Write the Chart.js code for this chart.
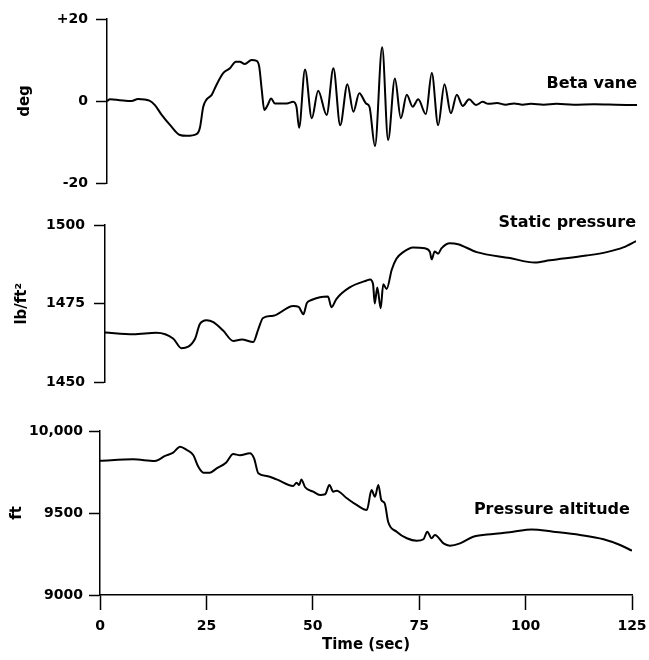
<!DOCTYPE html>
<html><head><meta charset="utf-8">
<script src="https://cdn.jsdelivr.net/npm/chart.js@4.4.1/dist/chart.umd.min.js"></script>
<style>
html,body{margin:0;padding:0;background:#fff;}
#wrap{position:relative;width:649px;height:660px;overflow:hidden;}
canvas{position:absolute;left:0;}
</style></head><body>
<div id="wrap">
<canvas id="c1" width="649" height="200" style="top:0px"></canvas>
<canvas id="c2" width="649" height="200" style="top:200px"></canvas>
<canvas id="c3" width="649" height="260" style="top:400px"></canvas>
</div>
<script>
// ---- Data ----
const betaTime = [0,0.7,3,5.8,7.3,10,11.3,12.9,14.9,17.2,18.8,21.1,21.9,22.7,23.5,24.7,25.8,27.4,29,30.4,31.3,32.5,34.1,35.3,35.9,36.5,37.1,37.9,38.7,39.6,42.4,43.9,44.7,45.3,46.7,48.3,49.8,51.8,53.4,55.0,56.7,58.1,59.5,61.1,61.9,63.2,64.9,66.3,67.9,69.3,70.7,72.1,73.4,75.2,76.6,78.1,79.6,81.1,82.5,83.9,85.4,87.0,88.6,89.9,92,94,96,98,100,103,106,110,115,120,125];
const betaDeg  = [0,0.4,0.2,0,0.5,0.1,-1,-3.4,-5.9,-8.3,-8.5,-8.1,-6.6,-1.4,0.4,1.5,3.9,6.8,8,9.6,9.6,9.0,10.0,9.8,8.4,2.7,-2.2,-1.0,0.6,-0.6,-0.6,-0.2,-1.5,-6.5,7.7,-4.2,2.5,-3.4,8.0,-5.9,4.1,-2.6,1.9,-0.6,-1.4,-11.0,13.1,-9.5,5.5,-4.2,1.5,-1.4,0.4,-3.2,6.8,-5.9,4.1,-3.0,1.5,-1.2,0.4,-1.0,-0.2,-0.7,-0.5,-0.9,-0.6,-0.9,-0.7,-0.9,-0.7,-0.9,-0.8,-0.9,-1.0];

const pressTime = [0,6.7,12.1,16.1,18,21.2,22.3,23.9,25.5,27.8,30.2,32.2,34.9,36.1,37.2,39.6,44.3,45.6,46.7,47.5,48.6,50.6,52.5,53.3,54.5,57.6,61.6,62.4,63.1,63.5,64.1,64.9,65.5,66.3,67.5,68.6,70.2,72.5,75.3,76.5,76.9,77.6,78.4,79.2,81.2,83.1,87.5,95.3,101.2,104.7,113.3,118.1,122,125];
const pressVal  = [1465.9,1465.3,1465.8,1463.9,1460.9,1463.9,1468.5,1469.8,1469.2,1466.5,1463.2,1463.7,1462.9,1467.0,1470.5,1471.2,1474.3,1474.0,1471.7,1475.2,1476.2,1477.1,1477.3,1473.9,1476.6,1480.2,1482.4,1482.7,1481.2,1475.1,1480.2,1473.6,1481.2,1479.7,1485.8,1489.3,1491.4,1492.9,1492.6,1491.4,1489.1,1491.6,1490.9,1492.6,1494.2,1493.9,1491.4,1489.5,1488.1,1488.8,1490.3,1491.4,1492.9,1494.9];

const altTime = [0,7.8,12.9,15.3,17.2,18.8,20.4,21.9,23.1,24.3,25.8,27.4,29.6,31.3,32.9,35.2,36.2,37.2,39.2,41.5,45.4,46.2,46.8,47.3,48.2,50.1,51.7,52.9,53.9,54.8,55.6,58.0,60.3,62.7,63.8,64.6,65.4,66.1,66.9,67.7,69.7,72.1,74.4,76,76.9,77.9,78.7,80.7,82.2,84.6,87.7,92.4,97.1,101.4,106.5,112.8,118.3,122.2,125];
const altVal  = [9819,9827,9817,9848,9868,9904,9884,9854,9782,9746,9746,9772,9807,9860,9852,9864,9833,9742,9726,9705,9665,9685,9671,9705,9657,9630,9610,9614,9671,9630,9636,9590,9549,9518,9640,9599,9671,9579,9559,9447,9386,9346,9331,9340,9386,9346,9366,9315,9301,9315,9355,9372,9386,9400,9386,9366,9340,9305,9270];

const betaTicks = [-20,0,20];
const betaTickLabels = ['-20','0','+20'];
const pressTicks = [1450,1475,1500];
const pressTickLabels = ['1450','1475','1500'];
const altTicks = [9000,9500,10000];
const altTickLabels = ['9000','9500','10,000'];
const timeTicks = [0,25,50,75,100,125];

const FONT = "'DejaVu Sans', 'Liberation Sans', sans-serif";
const INK = '#000';

const seriesLabel = {
  id: 'seriesLabel',
  afterDraw(chart, args, o) {
    if (!o || !o.text) return;
    const {ctx} = chart;
    const x = chart.scales.x, y = chart.scales.y;
    ctx.save();
    ctx.font = 'bold 16px ' + FONT;
    ctx.fillStyle = INK;
    ctx.textAlign = 'right';
    ctx.textBaseline = 'middle';
    ctx.fillText(o.text, x.getPixelForValue(o.x), y.getPixelForValue(o.y));
    ctx.restore();
  }
};

function panel(id, p) {
  const pts = p.time.map((t, i) => ({x: t, y: p.vals[i]}));
  return new Chart(document.getElementById(id), {
    type: 'line',
    data: { datasets: [{ data: pts, borderColor: INK, borderWidth: 2, pointRadius: 0,
      cubicInterpolationMode: 'monotone', fill: false }] },
    plugins: [seriesLabel],
    options: {
      responsive: false, animation: false,
      layout: { padding: { top: p.padTop, bottom: p.padBottom, left: 0, right: p.padRight } },
      plugins: { legend: {display: false}, tooltip: {enabled: false},
        seriesLabel: p.label },
      scales: {
        x: {
          type: 'linear', min: 0, max: 125, display: p.showX,
          afterBuildTicks: s => { s.ticks = timeTicks.map(v => ({value: v})); },
          afterFit: s => { if (p.showX) { s.height = p.xHeight; s.paddingLeft = 0; s.paddingRight = 0; } },
          border: { display: true, color: INK, width: 1.5 },
          grid: { drawOnChartArea: false, drawTicks: true, tickLength: 15, tickColor: INK, tickWidth: 1.5 },
          ticks: { color: INK, padding: 8, maxRotation: 0, font: { family: FONT, size: 14, weight: 'bold' } },
          title: { display: true, text: 'Time (sec)', color: INK, padding: {top: 0, bottom: 6},
            font: { family: FONT, size: 15, weight: 'bold' } }
        },
        y: {
          type: 'linear', min: p.yMin, max: p.yMax,
          afterBuildTicks: s => { s.ticks = p.ticks.map(v => ({value: v})); },
          afterFit: s => { s.width = p.yWidth; },
          border: { display: true, color: INK, width: 1.5 },
          grid: { drawOnChartArea: false, drawTicks: true, tickLength: 11, tickColor: INK, tickWidth: 1.5 },
          ticks: { color: INK, padding: p.labelPad, font: { family: FONT, size: 14, weight: 'bold' },
            callback: v => p.tickLabels[p.ticks.indexOf(v)] },
          title: { display: true, text: p.title, color: INK, padding: {top: p.titlePad, bottom: 0},
            font: { family: FONT, size: 15, weight: 'bold' } }
        }
      }
    }
  });
}

panel('c1', { time: betaTime, vals: betaDeg, yMin: -20, yMax: 20, ticks: betaTicks, tickLabels: betaTickLabels,
  title: 'deg', titlePad: 16, yWidth: 107, labelPad: 8, padTop: 19, padBottom: 17, padRight: 12, showX: false,
  label: { text: 'Beta vane', x: 125, y: 4.1 } });
panel('c2', { time: pressTime, vals: pressVal, yMin: 1450, yMax: 1500, ticks: pressTicks, tickLabels: pressTickLabels,
  title: 'lb/ft²', titlePad: 13, yWidth: 105, labelPad: 9, padTop: 25, padBottom: 11, padRight: 13, showX: false,
  label: { text: 'Static pressure', x: 125, y: 1500.6 } });
panel('c3', { time: altTime, vals: altVal, yMin: 9000, yMax: 10000, ticks: altTicks, tickLabels: altTickLabels,
  title: 'ft', titlePad: 8, yWidth: 100, labelPad: 6, padTop: 31, padBottom: 0, padRight: 17, showX: true, xHeight: 65,
  label: { text: 'Pressure altitude', x: 124.5, y: 9518 } });
</script>
</body></html>
